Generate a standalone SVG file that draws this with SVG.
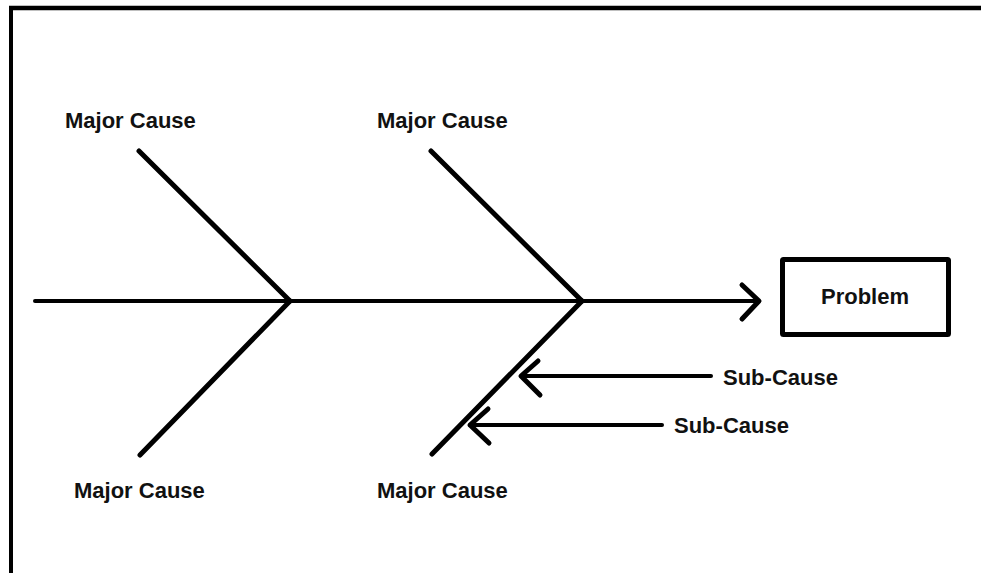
<svg xmlns="http://www.w3.org/2000/svg" width="981" height="573" viewBox="0 0 981 573">
<style>
.ln{stroke:#000;stroke-width:5;fill:none;stroke-linecap:round;stroke-linejoin:round}
.sp{stroke:#000;stroke-width:4;fill:none;stroke-linecap:round;stroke-linejoin:round}
.t{font-family:"Liberation Sans",Arial,sans-serif;font-weight:bold;font-size:22px;fill:#111}
</style>
<rect width="981" height="573" fill="#fff"/>
<g id="frame">
<line x1="9" y1="8" x2="981" y2="8" stroke="#000" stroke-width="4.5"/>
<line x1="11" y1="6" x2="11" y2="573" stroke="#000" stroke-width="4"/>
</g>
<g id="connectors">
<line class="sp" x1="35" y1="301" x2="758" y2="301"/>
<polyline class="ln" points="742,285 759,301 742,319"/>
<line class="ln" x1="139" y1="151" x2="290" y2="301"/>
<line class="ln" x1="290" y1="301" x2="140" y2="455"/>
<line class="ln" x1="431" y1="151" x2="582" y2="301"/>
<line class="ln" x1="582" y1="301" x2="432" y2="454"/>
<line class="sp" x1="522" y1="376" x2="711" y2="376"/>
<polyline class="ln" points="538,361 521,376 540,395"/>
<line class="sp" x1="470" y1="425" x2="662" y2="425"/>
<polyline class="ln" points="488,409 470,425 489,443"/>
</g>
<g id="problem">
<rect x="782.5" y="259.5" width="166" height="75" fill="#fff" stroke="#000" stroke-width="5" rx="1"/>
<text class="t" x="865" y="304" text-anchor="middle">Problem</text>
</g>
<g id="cause1"><text class="t" x="65" y="128">Major Cause</text></g>
<g id="cause2"><text class="t" x="377" y="128">Major Cause</text></g>
<g id="cause3"><text class="t" x="74" y="498">Major Cause</text></g>
<g id="cause4"><text class="t" x="377" y="498">Major Cause</text></g>
<g id="sub1"><text class="t" x="723" y="385">Sub-Cause</text></g>
<g id="sub2"><text class="t" x="674" y="433">Sub-Cause</text></g>
</svg>
